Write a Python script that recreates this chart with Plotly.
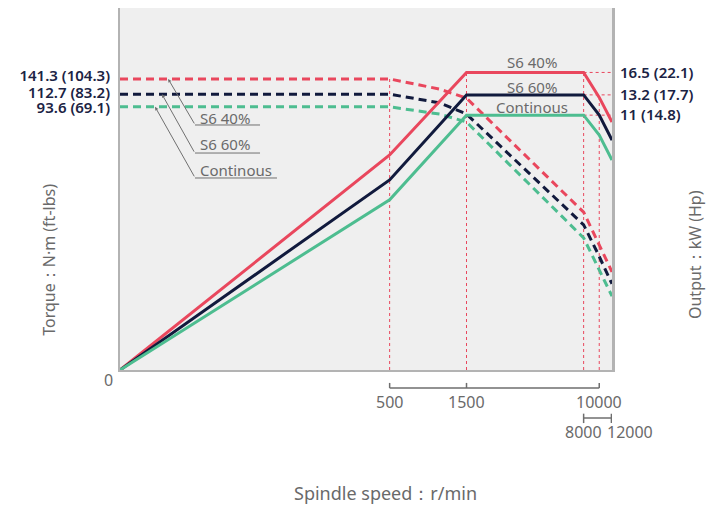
import math
import plotly.graph_objects as go

# speed axis is log-like from 500 up; 0 r/min is drawn at the left edge (ZERO_AT)
ZERO_AT = 10.6
SPEED_MAX = 12000

# chart heights are read in % of plot height (the drawing is not to scale)
torque_speed = [ZERO_AT, 500, 1020, 1500, 8000, 9700, 12000]
torque_s6_40 = [80.4, 80.4, 77.6, 75.1, 43.6, 35.9, 27.1]
torque_s6_60 = [76.2, 76.2, 73.8, 70.7, 40.1, 32.6, 23.8]
torque_cont = [72.7, 72.7, 70.7, 68.5, 36.5, 29.0, 20.4]

power_speed = [ZERO_AT, 500, 1500, 8000, 10000, 12000]
power_s6_40 = [0, 59.4, 82.2, 82.2, 75.3, 68.5]
power_s6_60 = [0, 52.5, 76.0, 76.0, 70.4, 63.5]
power_cont = [0, 47.0, 70.4, 70.4, 64.9, 58.0]

torque_labels = ["141.3 (104.3)", "112.7 (83.2)", "93.6 (69.1)"]
power_labels = ["16.5 (22.1)", "13.2 (17.7)", "11 (14.8)"]
series_names = ["S6 40%", "S6 60%", "Continous"]

speed_ticks_top = [500, 1500, 10000]
speed_ticks_bottom = [8000, 12000]

RED = "#e9475d"
NAVY = "#111a3d"
GREEN = "#4dbd90"
GREY_TEXT = "#6a6a6a"
LABEL_TEXT = "#1b2344"
FONT = "Noto Sans"

colors = [RED, NAVY, GREEN]
torques = [torque_s6_40, torque_s6_60, torque_cont]
powers = [power_s6_40, power_s6_60, power_cont]

fig = go.Figure()

for name, ys, c in zip(series_names, torques, colors):
    fig.add_trace(go.Scatter(x=torque_speed, y=ys, name=name + " torque", mode="lines",
                             line=dict(color=c, width=3, dash="8px,5px")))
for name, ys, c in zip(series_names, powers, colors):
    fig.add_trace(go.Scatter(x=power_speed, y=ys, name=name + " power", mode="lines",
                             line=dict(color=c, width=3)))

# invisible trace so the right axis is drawn
fig.add_trace(go.Scatter(x=[ZERO_AT], y=[0], yaxis="y2", mode="markers",
                         marker=dict(opacity=0), showlegend=False, hoverinfo="skip"))

shapes = []
dot = dict(color=RED, width=1, dash="dot")
# vertical guides
for sx, top in [(500, torque_s6_40[0]), (1500, power_s6_40[2]), (8000, power_s6_40[3]),
                (10000, power_s6_60[3])]:
    shapes.append(dict(type="line", xref="x", yref="y", x0=sx, x1=sx, y0=0, y1=top, line=dot, layer="below"))
# horizontal guides to the right axis
for pw in powers:
    shapes.append(dict(type="line", xref="x", yref="y", x0=8000, x1=SPEED_MAX, y0=pw[3], y1=pw[3],
                       line=dot, layer="below"))

# speed scale under the plot
axis_grey = "#6e6e6e"
y_top = -0.0497
shapes.append(dict(type="line", xref="x", yref="paper", x0=500, x1=10000, y0=y_top, y1=y_top,
                   line=dict(color=axis_grey, width=1.5)))
for sx in speed_ticks_top:
    shapes.append(dict(type="line", xref="x", yref="paper", x0=sx, x1=sx, y0=y_top, y1=y_top + 0.014,
                       line=dict(color=axis_grey, width=1.5)))
y_br = -0.1326
shapes.append(dict(type="line", xref="x", yref="paper", x0=8000, x1=11900, y0=y_br, y1=y_br,
                   line=dict(color=axis_grey, width=1.5)))
for sx in [8000, 11900]:
    shapes.append(dict(type="line", xref="x", yref="paper", x0=sx, x1=sx, y0=y_br - 0.014, y1=y_br + 0.012,
                       line=dict(color=axis_grey, width=1.5)))

tick_font = dict(size=16, color=GREY_TEXT)
annotations = []
for sx in speed_ticks_top:
    annotations.append(dict(x=math.log10(sx), xref="x", yref="paper", y=-0.088, text=str(sx),
                            showarrow=False, xanchor="center", yanchor="middle", font=tick_font))
annotations.append(dict(x=math.log10(speed_ticks_bottom[0]), xref="x", yref="paper", y=-0.171,
                        text=str(speed_ticks_bottom[0]), showarrow=False, xanchor="center",
                        yanchor="middle", font=tick_font))
annotations.append(dict(x=math.log10(11900), xref="x", yref="paper", y=-0.171,
                        text=str(speed_ticks_bottom[1]), showarrow=False, xanchor="left", xshift=-6,
                        yanchor="middle", font=tick_font))
annotations.append(dict(x=-0.024, y=-0.028, xref="paper", yref="paper", text="0", showarrow=False,
                        xanchor="center", yanchor="middle", font=tick_font))

# power curve labels
for name, pw, shift in zip(series_names, powers, [10, 8, 8]):
    annotations.append(dict(x=math.log10(3850), y=pw[2], xref="x", yref="y", text=name, showarrow=False,
                            xanchor="center", yanchor="middle", yshift=shift,
                            font=dict(size=15, color=GREY_TEXT)))

# torque curve labels with leaders
leader = [(21.1, 27, 46, 0.696, 0.6768, 0.2846),
          (19.3, 33, 59, 0.6243, 0.5994, 0.2846),
          (17.5, 40, 71, 0.5525, 0.5304, 0.3191)]
for (tx, ax, ay, ty, uy, ux), name, tq in zip(leader, series_names, torques):
    annotations.append(dict(x=math.log10(tx), y=tq[0], xref="x", yref="y", text="", showarrow=True,
                            ax=ax, ay=ay, arrowhead=2, arrowsize=0.7, arrowwidth=1, arrowcolor="#707070"))
    shapes.append(dict(type="line", xref="paper", yref="paper", x0=0.1524, x1=ux, y0=uy, y1=uy,
                       line=dict(color="#707070", width=1)))
    annotations.append(dict(x=0.1585, y=ty, xref="paper", yref="paper", text=name, showarrow=False,
                            xanchor="left", yanchor="middle", font=dict(size=15, color=GREY_TEXT)))

# axis titles
title_font = dict(size=16, color=GREY_TEXT)
annotations.append(dict(x=-0.146, y=0.305, xref="paper", yref="paper", text="Torque：N·m (ft-lbs)",
                        textangle=-90, showarrow=False, xanchor="center", yanchor="middle", font=title_font))
annotations.append(dict(x=1.169, y=0.318, xref="paper", yref="paper", text="Output：kW (Hp)",
                        textangle=-90, showarrow=False, xanchor="center", yanchor="middle", font=title_font))
annotations.append(dict(x=0.539, y=-0.34, xref="paper", yref="paper", text="Spindle speed：r/min",
                        showarrow=False, xanchor="center", yanchor="middle",
                        font=dict(size=18, color=GREY_TEXT)))

# left labels sit a little apart from their lines, as in the drawing
torque_label_at = [81.3, 76.5, 72.4]

border = "#b3b3b3"
fig.update_layout(
    width=713, height=498,
    margin=dict(l=112, r=109, t=0, b=136),
    paper_bgcolor="white",
    plot_bgcolor="#efefef",
    showlegend=False,
    font=dict(family=FONT),
    xaxis=dict(type="log", range=[math.log10(ZERO_AT), math.log10(SPEED_MAX)], showticklabels=False,
               ticks="", showgrid=False, zeroline=False, showline=True, linecolor=border, linewidth=2),
    yaxis=dict(range=[0, 100], tickvals=torque_label_at, ticktext=torque_labels, ticks="",
               showgrid=False, zeroline=False, showline=True, linecolor=border, linewidth=2,
               ticklabelstandoff=5,
               tickfont=dict(size=15, color=LABEL_TEXT, weight=600)),
    yaxis2=dict(range=[0, 100], overlaying="y", side="right", tickvals=[p[3] for p in powers],
                ticktext=power_labels, ticks="", showgrid=False, zeroline=False, showline=True,
                linecolor=border, linewidth=3, ticklabelstandoff=2,
                tickfont=dict(size=15, color=LABEL_TEXT, weight=600)),
    shapes=shapes,
    annotations=annotations,
)

fig.write_html("out.html")
